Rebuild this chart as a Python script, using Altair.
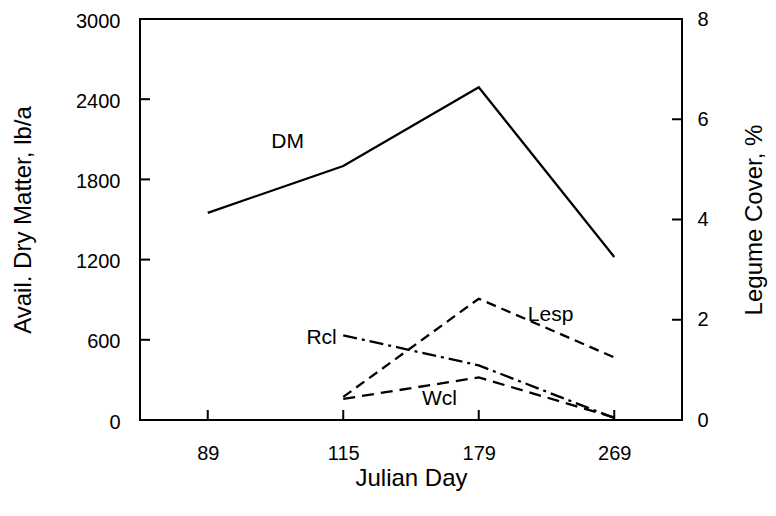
import altair as alt
import pandas as pd

# ---- data ----
day_labels = ["89", "115", "179", "269"]
day_idx = [0, 1, 2, 3]

dm_vals = [1550, 1900, 2490, 1220]

leg_idx = [1, 2, 3]
lesp_vals = [0.46, 2.42, 1.25]
rcl_vals = [1.69, 1.09, 0.04]
wcl_vals = [0.42, 0.85, 0.05]

series_names = ["Lesp", "Rcl", "Wcl"]
series_dash = [[10, 6], [14, 5, 3, 5], [12, 7]]

left_ticks = [0, 600, 1200, 1800, 2400, 3000]
right_ticks = [0, 2, 4, 6, 8]

dm_label = ["DM"]
dm_label_x = [0.59]
dm_label_y = [2077]

leg_label_text = ["Rcl", "Lesp", "Wcl"]
leg_label_x = [0.84, 2.53, 1.71]
leg_label_y = [1.63, 2.10, 0.42]

FONT = "Liberation Sans"
W, H = 542, 401

dm_df = pd.DataFrame({"i": day_idx, "v": dm_vals})
leg_rows = []
for name, vals in zip(series_names, [lesp_vals, rcl_vals, wcl_vals]):
    for i, v in zip(leg_idx, vals):
        leg_rows.append({"i": i, "v": v, "s": name})
leg_df = pd.DataFrame(leg_rows)
dm_lab_df = pd.DataFrame({"i": dm_label_x, "v": dm_label_y, "t": dm_label})
leg_lab_df = pd.DataFrame({"i": leg_label_x, "v": leg_label_y, "t": leg_label_text})

# label expression built from the day labels (nested conditionals)
label_expr = "''"
for k in range(len(day_labels) - 1, -1, -1):
    label_expr = "(datum.value == %d ? '%s' : %s)" % (day_idx[k], day_labels[k], label_expr)

x_scale = alt.Scale(domain=[-0.5, 3.5], nice=False, zero=False)
x_axis = alt.Axis(
    values=day_idx,
    labelExpr=label_expr,
    title="Julian Day",
    grid=False, domain=False, ticks=False, tickSize=0,
    labelPadding=23, titlePadding=3,
)

left_scale = alt.Scale(domain=[0, 3000], nice=False)
right_scale = alt.Scale(domain=[0, 8], nice=False)

left_axis = alt.Axis(
    orient="left", values=left_ticks, format="d",
    title="Avail. Dry Matter, lb/a", grid=False, domain=False,
    ticks=False, tickSize=0, labelFlush=False, labelOffset=2,
    labelPadding=20, titlePadding=40,
)
right_axis = alt.Axis(
    orient="right", values=right_ticks, format="d",
    title="Legume Cover, %", grid=False, domain=False,
    ticks=False, tickSize=0, labelFlush=False,
    labelPadding=15, titlePadding=58, titleAngle=270,
)

X = alt.X("i:Q", scale=x_scale, axis=x_axis)

dm_line = alt.Chart(dm_df).mark_line(color="black", strokeWidth=2.3).encode(
    x=X,
    y=alt.Y("v:Q", scale=left_scale, axis=left_axis),
)
dm_text = alt.Chart(dm_lab_df).mark_text(font=FONT, fontSize=21, color="black").encode(
    x=X,
    y=alt.Y("v:Q", scale=left_scale, axis=None),
    text="t:N",
)

leg_lines = alt.Chart(leg_df).mark_line(color="black", strokeWidth=2.3).encode(
    x=X,
    y=alt.Y("v:Q", scale=right_scale, axis=right_axis),
    strokeDash=alt.StrokeDash("s:N", scale=alt.Scale(domain=series_names, range=series_dash), legend=None),
    detail="s:N",
)
leg_text = alt.Chart(leg_lab_df).mark_text(font=FONT, fontSize=21, color="black").encode(
    x=X,
    y=alt.Y("v:Q", scale=right_scale, axis=None),
    text="t:N",
)

# inward-pointing tick marks
x_tick_rules = alt.Chart(pd.DataFrame({"i": day_idx})).mark_rule(color="black", strokeWidth=2).encode(
    x=X, y=alt.value(H), y2=alt.value(H - 10),
)
left_tick_rules = alt.Chart(pd.DataFrame({"v": left_ticks})).mark_rule(color="black", strokeWidth=2).encode(
    y=alt.Y("v:Q", scale=left_scale, axis=None), x=alt.value(0), x2=alt.value(10),
)
right_tick_rules = alt.Chart(pd.DataFrame({"v": right_ticks})).mark_rule(color="black", strokeWidth=2).encode(
    y=alt.Y("v:Q", scale=right_scale, axis=None), x=alt.value(W - 10), x2=alt.value(W),
)

chart = alt.layer(
    dm_line, dm_text, leg_lines, leg_text, x_tick_rules, left_tick_rules, right_tick_rules,
).resolve_scale(y="independent").properties(
    width=W, height=H,
    autosize=alt.AutoSizeParams(type="none"),
    padding={"left": 132, "top": 11, "right": 86, "bottom": 80},
    background="white",
).configure_view(
    stroke="black", strokeWidth=2,
).configure_axis(
    labelFont=FONT, titleFont=FONT, labelFontSize=20, titleFontSize=24,
    labelColor="black", titleColor="black", titleFontWeight="normal",
)

chart.save("out.html", embed_options={"renderer": "svg", "actions": False})
